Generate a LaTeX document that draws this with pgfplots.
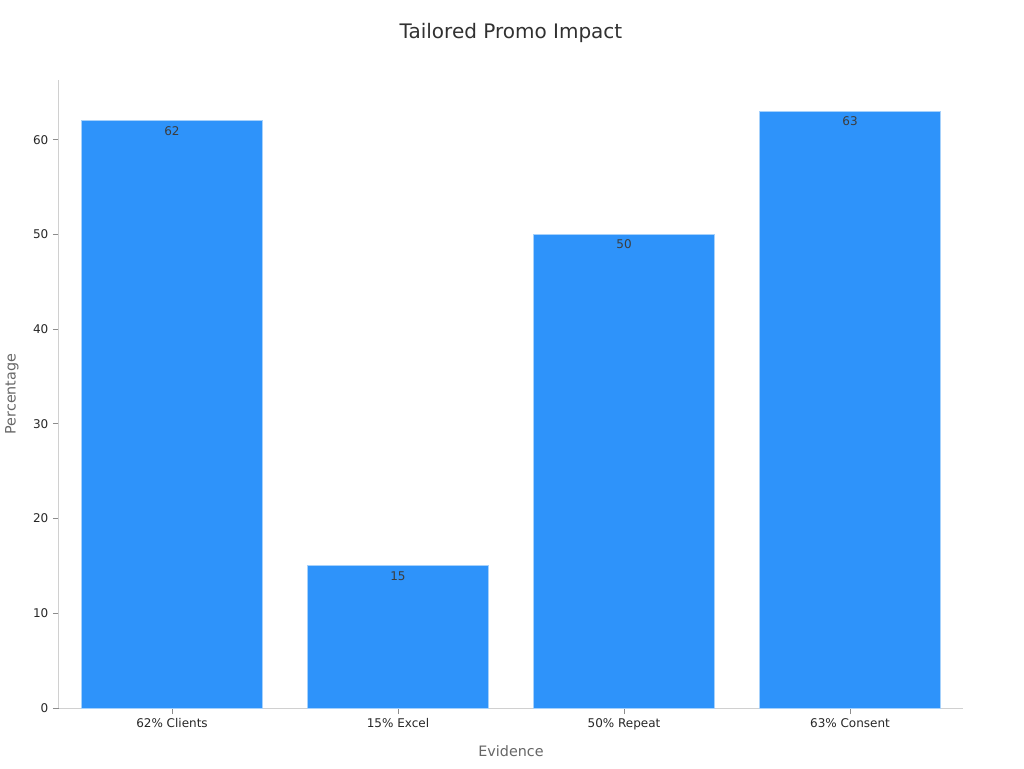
\documentclass[border=0pt]{standalone}
\usepackage{pgfplots}
\pgfplotsset{compat=1.18}
\usepackage{fontspec}
\setmainfont{DejaVu Sans}
\definecolor{barfill}{HTML}{2E93FA}
\definecolor{baredge}{HTML}{A6D1FB}
\definecolor{axisgray}{HTML}{D0D0D0}
\definecolor{tickgray}{HTML}{8C8C8C}
\definecolor{labelgray}{HTML}{666666}
\definecolor{textdark}{HTML}{262626}

\begin{document}
\begin{tikzpicture}[x=1pt,y=1pt]
% page = 1024x768 px at 0.75pt/px; axis box from (59,80) to (963,708) px
\useasboundingbox (-44.25,-45) rectangle (723.75,531);
\begin{axis}[
    scale only axis,
    width=678pt, height=471pt,
    xmin=-0.5, xmax=3.5,
    ymin=0, ymax=66.3,
    axis lines=left,
    axis line style={-, color=axisgray, line width=0.75pt},
    every outer x axis line/.append style={color=axisgray},
    every outer y axis line/.append style={color=axisgray},
    tick style={color=tickgray, line width=0.75pt},
    major tick length=4.5pt,
    tick align=outside,
    xtick={0,1,2,3},
    xticklabels={62\% Clients,15\% Excel,50\% Repeat,63\% Consent},
    ytick={0,10,20,30,40,50,60},
    ticklabel style={font=\fontsize{9}{11}\selectfont, text=textdark},
    /pgf/number format/assume math mode=true,
    clip=false,
    ybar, bar width=0.8,
    nodes near coords,
    every node near coord/.append style={anchor=center, yshift=-7.5pt,
        font=\fontsize{9}{11}\selectfont, text=textdark!90},
]
\addplot[fill=barfill, draw=baredge, line width=0.75pt, bar shift=0pt]
    coordinates {(0,62) (1,15) (2,50) (3,63)};

\node[font=\fontsize{15}{18}\selectfont, text=textdark!95] at ([yshift=35.25pt]rel axis cs:0.5,1) {Tailored Promo Impact};
\node[font=\fontsize{10.75}{13}\selectfont, text=labelgray] at ([yshift=-32.25pt]rel axis cs:0.5,0) {Evidence};
\node[font=\fontsize{10.75}{13}\selectfont, text=labelgray, rotate=90] at ([xshift=-35.25pt]rel axis cs:0,0.5) {Percentage};
\end{axis}
\end{tikzpicture}
\end{document}
